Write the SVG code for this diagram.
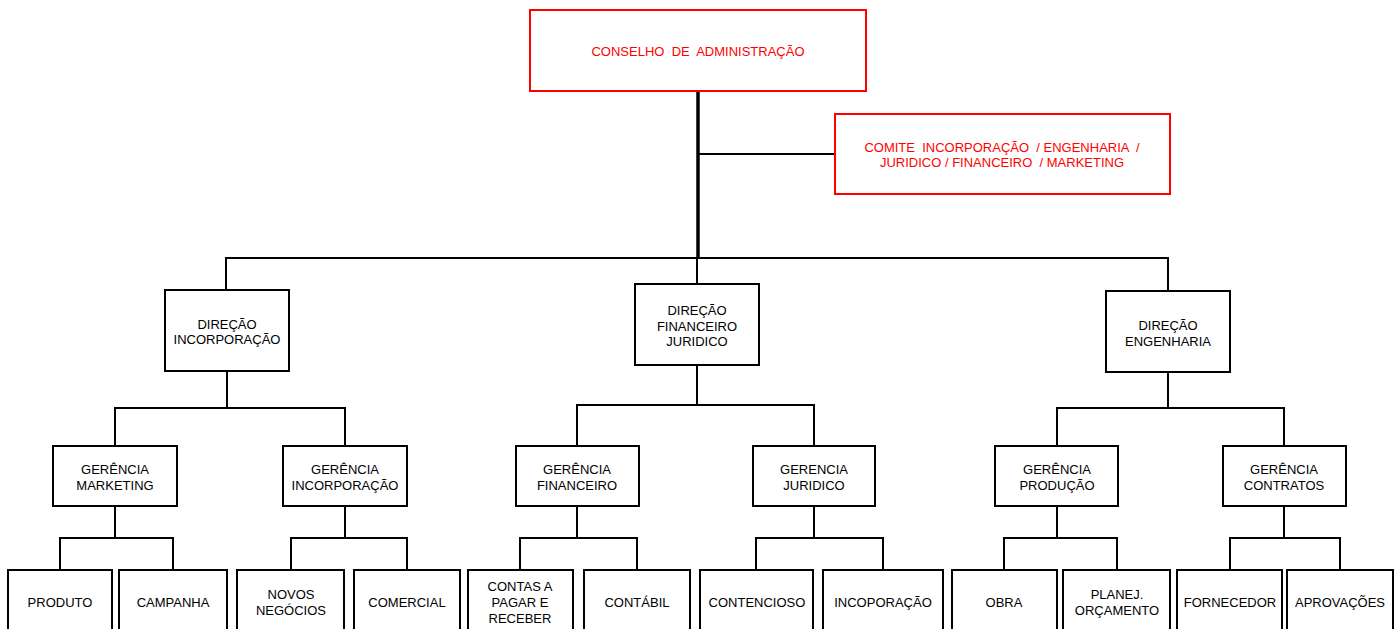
<svg xmlns="http://www.w3.org/2000/svg" width="1396" height="629" viewBox="0 0 1396 629">
<style>
.bg{fill:#ffffff}
.box{fill:#ffffff;stroke:#000000;stroke-width:2}
.rbox{fill:#ffffff;stroke:#ff0000;stroke-width:2}
.ln{fill:none;stroke:#000000;stroke-width:2}
.trunk{fill:none;stroke:#000000;stroke-width:3.5}
text{font-family:"Liberation Sans",Arial,sans-serif;font-size:13px;fill:#000000;text-anchor:middle;white-space:pre}
.red{fill:#ff0000}
</style>
<rect class="bg" x="0" y="0" width="1396" height="629"/>
<g id="connectors">
<line class="trunk" x1="698" y1="91" x2="698" y2="258"/>
<line class="ln" x1="698" y1="154" x2="835" y2="154"/>
<path class="ln" d="M226 290 V258 H1168 V291"/>
<line class="ln" x1="697" y1="258" x2="697" y2="284"/>
<path class="ln" d="M227 371 V408"/>
<path class="ln" d="M115 446 V408 H345 V446"/>
<path class="ln" d="M697 365 V405"/>
<path class="ln" d="M577 446 V405 H814 V446"/>
<path class="ln" d="M1168 372 V408"/>
<path class="ln" d="M1057 446 V408 H1284 V446"/>
<path class="ln" d="M115 506 V538 M60 570 V538 H173 V570"/>
<path class="ln" d="M345 506 V538 M291 570 V538 H407 V570"/>
<path class="ln" d="M577 506 V538 M520 570 V538 H637 V570"/>
<path class="ln" d="M814 506 V538 M756 570 V538 H883 V570"/>
<path class="ln" d="M1057 506 V538 M1004 570 V538 H1117 V570"/>
<path class="ln" d="M1284 506 V538 M1230 570 V538 H1340 V570"/>
</g>
<g id="conselho">
<rect class="rbox" x="530" y="10" width="336" height="81"/>
<text class="red" x="698" y="56">CONSELHO  DE  ADMINISTRAÇÃO</text>
</g>
<g id="comite">
<rect class="rbox" x="835" y="114" width="335" height="80"/>
<text class="red" x="1002" y="152">COMITE  INCORPORAÇÃO  / ENGENHARIA  /</text>
<text class="red" x="1002" y="167">JURIDICO / FINANCEIRO  / MARKETING</text>
</g>
<g id="dir-incorporacao">
<rect class="box" x="165" y="290" width="124" height="81"/>
<text x="227" y="329">DIREÇÃO</text>
<text x="227" y="344">INCORPORAÇÃO</text>
</g>
<g id="dir-financeiro">
<rect class="box" x="635" y="284" width="124" height="81"/>
<text x="697" y="315">DIREÇÃO</text>
<text x="697" y="331">FINANCEIRO</text>
<text x="697" y="346">JURIDICO</text>
</g>
<g id="dir-engenharia">
<rect class="box" x="1106" y="291" width="124" height="81"/>
<text x="1168" y="330">DIREÇÃO</text>
<text x="1168" y="346">ENGENHARIA</text>
</g>
<g id="ger-marketing">
<rect class="box" x="53" y="446" width="124" height="60"/>
<text x="115" y="474">GERÊNCIA</text>
<text x="115" y="490">MARKETING</text>
</g>
<g id="ger-incorporacao">
<rect class="box" x="283" y="446" width="124" height="60"/>
<text x="345" y="474">GERÊNCIA</text>
<text x="345" y="490">INCORPORAÇÃO</text>
</g>
<g id="ger-financeiro">
<rect class="box" x="516" y="446" width="123" height="60"/>
<text x="577" y="474">GERÊNCIA</text>
<text x="577" y="490">FINANCEIRO</text>
</g>
<g id="ger-juridico">
<rect class="box" x="753" y="446" width="122" height="60"/>
<text x="814" y="474">GERENCIA</text>
<text x="814" y="490">JURIDICO</text>
</g>
<g id="ger-producao">
<rect class="box" x="995" y="446" width="123" height="60"/>
<text x="1057" y="474">GERÊNCIA</text>
<text x="1057" y="490">PRODUÇÃO</text>
</g>
<g id="ger-contratos">
<rect class="box" x="1223" y="446" width="123" height="60"/>
<text x="1284" y="474">GERÊNCIA</text>
<text x="1284" y="490">CONTRATOS</text>
</g>
<g id="produto">
<rect class="box" x="8" y="570" width="104" height="66"/>
<text x="60" y="607">PRODUTO</text>
</g>
<g id="campanha">
<rect class="box" x="119" y="570" width="108" height="66"/>
<text x="173" y="607">CAMPANHA</text>
</g>
<g id="novos-negocios">
<rect class="box" x="237" y="570" width="107" height="66"/>
<text x="291" y="599">NOVOS</text>
<text x="291" y="615">NEGÓCIOS</text>
</g>
<g id="comercial">
<rect class="box" x="354" y="570" width="106" height="66"/>
<text x="407" y="607">COMERCIAL</text>
</g>
<g id="contas">
<rect class="box" x="468" y="570" width="105" height="66"/>
<text x="520" y="591">CONTAS A</text>
<text x="520" y="607">PAGAR E</text>
<text x="520" y="623">RECEBER</text>
</g>
<g id="contabil">
<rect class="box" x="584" y="570" width="106" height="66"/>
<text x="637" y="607">CONTÁBIL</text>
</g>
<g id="contencioso">
<rect class="box" x="700" y="570" width="113" height="66"/>
<text x="757" y="607">CONTENCIOSO</text>
</g>
<g id="incoporacao">
<rect class="box" x="823" y="570" width="120" height="66"/>
<text x="883" y="607">INCOPORAÇÃO</text>
</g>
<g id="obra">
<rect class="box" x="952" y="570" width="105" height="66"/>
<text x="1004" y="607">OBRA</text>
</g>
<g id="planej">
<rect class="box" x="1063" y="570" width="107" height="66"/>
<text x="1117" y="599">PLANEJ.</text>
<text x="1117" y="615">ORÇAMENTO</text>
</g>
<g id="fornecedor">
<rect class="box" x="1177" y="570" width="105" height="66"/>
<text x="1230" y="607">FORNECEDOR</text>
</g>
<g id="aprovacoes">
<rect class="box" x="1287" y="570" width="106" height="66"/>
<text x="1340" y="607">APROVAÇÕES</text>
</g>
</svg>
